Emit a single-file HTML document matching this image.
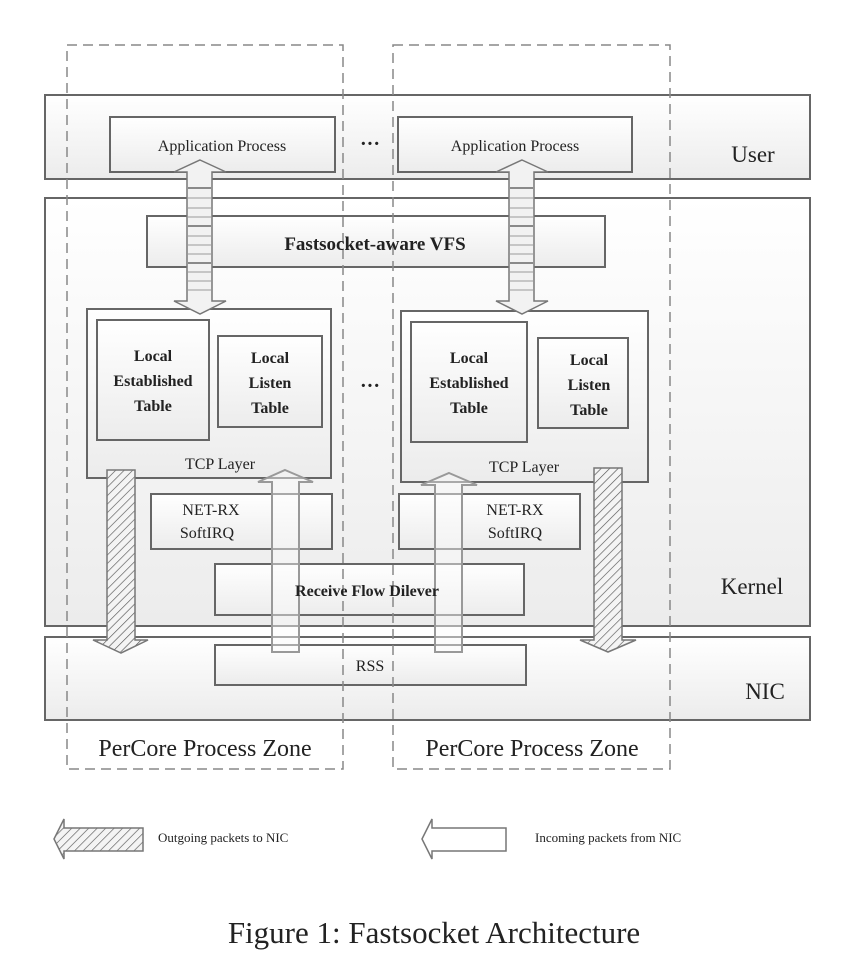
<!DOCTYPE html>
<html><head><meta charset="utf-8"><style>body{margin:0;background:#fff}svg{display:block}</style></head><body>
<svg width="868" height="972" viewBox="0 0 868 972" xmlns="http://www.w3.org/2000/svg" font-family="Liberation Serif, serif">
<defs>
<linearGradient id="g" x1="0" y1="0" x2="0" y2="1"><stop offset="0" stop-color="#ffffff"/><stop offset="1" stop-color="#ececec"/></linearGradient>
<pattern id="h" width="6" height="6" patternUnits="userSpaceOnUse" patternTransform="rotate(45)"><rect width="6" height="6" fill="#f4f4f4"/><line x1="0" y1="0" x2="0" y2="6" stroke="#555" stroke-width="1.3"/></pattern>
</defs>
<g stroke="#666" stroke-width="2" fill="url(#g)">
<rect x="45" y="95" width="765" height="84"/>
<rect x="45" y="198" width="765" height="428"/>
<rect x="45" y="637" width="765" height="83"/>
<rect x="110" y="117" width="225" height="55"/>
<rect x="398" y="117" width="234" height="55"/>
<rect x="147" y="216" width="458" height="51"/>
<rect x="87" y="309" width="244" height="169"/>
<rect x="97" y="320" width="112" height="120"/>
<rect x="218" y="336" width="104" height="91"/>
<rect x="401" y="311" width="247" height="171"/>
<rect x="411" y="322" width="116" height="120"/>
<rect x="538" y="338" width="90" height="90"/>
<rect x="151" y="494" width="181" height="55"/>
<rect x="399" y="494" width="181" height="55"/>
<rect x="215" y="564" width="309" height="51"/>
<rect x="215" y="645" width="311" height="40"/>
</g>
<g stroke="#888" stroke-width="1.5" fill="none" stroke-dasharray="10,6">
<rect x="67" y="45" width="276" height="724"/>
<rect x="393" y="45" width="277" height="724"/>
</g>
<!-- double arrows -->
<g stroke="#777" stroke-width="1.5" fill="#f2f2f2">
<polygon points="200,160 226,172 212,172 212,301 226,301 200,314 174,301 187,301 187,172 174,172"/>
<polygon points="522,160 548,172 534,172 534,301 548,301 522,314 496,301 509,301 509,172 496,172"/>
</g>
<g stroke="#222" stroke-width="1">
<path d="M188,188h23M188,226h23M188,263h23M510,188h23M510,226h23M510,263h23"/>
<path d="M188,198h23M188,208h23M188,217h23M188,236h23M188,245h23M188,254h23M188,272h23M188,281h23M188,290h23M510,198h23M510,208h23M510,217h23M510,236h23M510,245h23M510,254h23M510,272h23M510,281h23M510,290h23" stroke="#999"/>
</g>
<!-- striped down arrows -->
<g stroke="#777" stroke-width="1.5" fill="url(#h)">
<polygon points="107,470 135,470 135,640 148,640 121,653 93,640 107,640"/>
<polygon points="594,468 622,468 622,640 636,640 608,652 580,640 594,640"/>
</g>
<!-- up arrows -->
<g stroke="#999" stroke-width="2" fill="rgba(250,250,250,0.45)">
<polygon points="285,470 313,482 299,482 299,652 272,652 272,482 258,482"/>
<polygon points="449,473 477,485 462,485 462,652 435,652 435,485 421,485"/>
</g>
<g fill="#222" text-anchor="middle">
<text x="222" y="151" font-size="16">Application Process</text>
<text x="515" y="151" font-size="16">Application Process</text>
<text x="370" y="150" font-size="20" font-weight="bold">···</text>
<text x="370" y="392" font-size="20" font-weight="bold">···</text>
<text x="753" y="162" font-size="23">User</text>
<text x="752" y="594" font-size="23">Kernel</text>
<text x="765" y="699" font-size="23">NIC</text>
<text x="375" y="250" font-size="19" font-weight="bold">Fastsocket-aware VFS</text>
<g font-size="16" font-weight="bold">
<text x="153" y="361">Local</text><text x="153" y="386">Established</text><text x="153" y="411">Table</text>
<text x="270" y="363">Local</text><text x="270" y="388">Listen</text><text x="270" y="413">Table</text>
<text x="469" y="363">Local</text><text x="469" y="388">Established</text><text x="469" y="413">Table</text>
<text x="589" y="365">Local</text><text x="589" y="390">Listen</text><text x="589" y="415">Table</text>
<text x="367" y="596">Receive Flow Dilever</text>
</g>
<text x="220" y="469" font-size="16">TCP Layer</text>
<text x="524" y="472" font-size="16">TCP Layer</text>
<text x="211" y="515" font-size="16">NET-RX</text><text x="207" y="538" font-size="16">SoftIRQ</text>
<text x="515" y="515" font-size="16">NET-RX</text><text x="515" y="538" font-size="16">SoftIRQ</text>
<text x="370" y="671" font-size="16">RSS</text>
<text x="205" y="756" font-size="24">PerCore Process Zone</text>
<text x="532" y="756" font-size="24">PerCore Process Zone</text>
<text x="158" y="842" font-size="13" text-anchor="start">Outgoing packets to NIC</text>
<text x="535" y="842" font-size="13" text-anchor="start">Incoming packets from NIC</text>
<text x="434" y="943" font-size="31">Figure 1: Fastsocket Architecture</text>
</g>
<g stroke="#777" stroke-width="1.5">
<polygon fill="url(#h)" points="54,839 64,819 64,828 143,828 143,851 64,851 64,859"/>
<polygon fill="#fff" points="422,839 432,819 432,828 506,828 506,851 432,851 432,859"/>
</g>
</svg>
</body></html>
